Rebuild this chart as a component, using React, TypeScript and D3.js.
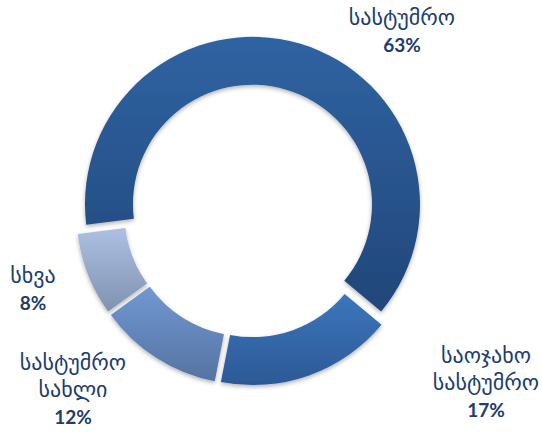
import React from "react";
import * as d3 from "d3";

const categories = ["სასტუმრო", "საოჯახო სასტუმრო", "სასტუმრო სახლი", "სხვა"];
const labelLines = [["სასტუმრო"], ["საოჯახო", "სასტუმრო"], ["სასტუმრო", "სახლი"], ["სხვა"]];
const values = [63, 17, 12, 8];

// layout constants
const W = 542, H = 432;
const CX = 250.5, CY = 211, R = 167.5, RI = 119.5, EXPLODE = 7;
const START_DEG = 263;
const gradTop = ["#2f63a2", "#3b76bd", "#7198d1", "#adc0e3"];
const gradBottom = ["#22467a", "#2c5995", "#5573a2", "#8092b0"];
const labelAnchors: [number, number][] = [[402, 25], [486, 363], [73, 370], [33, 283]];
const LINE_H = 27;
const textColor = "#203d6b";

export default function App() {
  const pie = d3
    .pie<number>()
    .sort(null)
    .value((d) => d)
    .startAngle((START_DEG * Math.PI) / 180)
    .endAngle(((START_DEG + 360) * Math.PI) / 180);
  const arcs = pie(values);
  const arcGen = d3.arc<d3.PieArcDatum<number>>().innerRadius(RI).outerRadius(R);

  return (
    <svg width={W} height={H} style={{ position: "absolute", left: 0, top: 0, background: "#fff" }}>
      <defs>
        {values.map((_, i) => (
          <linearGradient key={i} id={`g${i}`} x1="0" y1="0" x2="0" y2="1">
            <stop offset="0%" stopColor={gradTop[i]} />
            <stop offset="100%" stopColor={gradBottom[i]} />
          </linearGradient>
        ))}
        <filter id="sh" x="-20%" y="-20%" width="140%" height="140%">
          <feDropShadow dx="0" dy="2" stdDeviation="2" floodColor="#000" floodOpacity="0.3" />
        </filter>
      </defs>
      <g transform={`translate(${CX},${CY})`}>
        {arcs.map((a, i) => {
          const mid = (a.startAngle + a.endAngle) / 2;
          const dx = Math.sin(mid) * EXPLODE;
          const dy = -Math.cos(mid) * EXPLODE;
          return (
            <path
              key={i}
              d={arcGen(a) || ""}
              transform={`translate(${dx},${dy})`}
              fill={`url(#g${i})`}
              filter="url(#sh)"
            />
          );
        })}
      </g>
      {categories.map((c, i) => {
        const [x, y] = labelAnchors[i];
        const lines = [...labelLines[i], `${values[i]}%`];
        return (
          <text key={c} x={x} y={y} textAnchor="middle" fill={textColor}
            style={{ fontFamily: "'DejaVu Sans', sans-serif", fontSize: 22 }}>
            {lines.map((l, j) => (
              <tspan key={j} x={x} dy={j === 0 ? 0 : LINE_H}
                style={j === lines.length - 1 ? { fontFamily: "Lato, 'Liberation Sans', sans-serif", fontWeight: 700, fontSize: 19 } : undefined}>
                {l}
              </tspan>
            ))}
          </text>
        );
      })}
    </svg>
  );
}
